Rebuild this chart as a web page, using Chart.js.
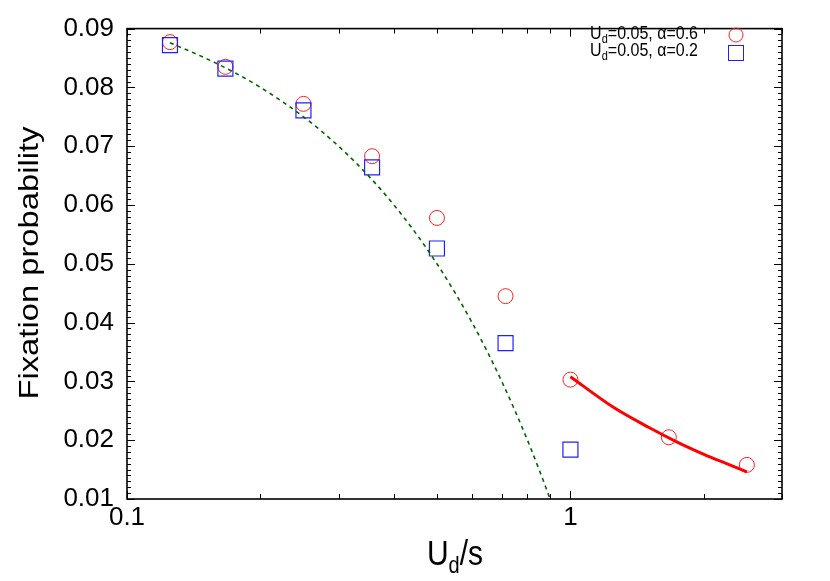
<!DOCTYPE html>
<html><head><meta charset="utf-8">
<script src="https://cdn.jsdelivr.net/npm/chart.js@4/dist/chart.umd.min.js"></script>
<style>html,body{margin:0;padding:0;background:#fff}#wrap{width:830px;height:581px;position:relative}</style>
</head><body><div id="wrap"><canvas id="c"></canvas></div>
<script>
// ---- data ----
const xCircle = [0.125, 0.1667, 0.25, 0.357, 0.5, 0.714, 1, 1.667, 2.5];
const yCircle = [0.0877, 0.0835, 0.0772, 0.0683, 0.0578, 0.0445, 0.0303, 0.0205, 0.0158];
const xSquare = [0.125, 0.1667, 0.25, 0.357, 0.5, 0.714, 1];
const ySquare = [0.0872, 0.0832, 0.0761, 0.0664, 0.0526, 0.0365, 0.0184];
const xGreen = [0.125, 0.15, 0.175, 0.2, 0.25, 0.3, 0.35, 0.4, 0.45, 0.5, 0.55, 0.6, 0.65, 0.7, 0.75, 0.8, 0.85, 0.9];
const yGreen = [0.0876, 0.0850, 0.0825, 0.0800, 0.0750, 0.0700, 0.0650, 0.0600, 0.0550, 0.0500, 0.0450, 0.0400, 0.0350, 0.0300, 0.0250, 0.0200, 0.0150, 0.0100];
const xRed = [1.0, 1.25, 1.5, 1.75, 2.0, 2.25, 2.5];
const yRed = [0.0308, 0.0256, 0.0222, 0.0196, 0.0176, 0.0160, 0.0146];
const xMajorTicks = [0.1, 1];
const xMinorTicks = [0.2, 0.3, 0.4, 0.5, 0.6, 0.7, 0.8, 0.9, 2, 3];
const yTicks = [0.01, 0.02, 0.03, 0.04, 0.05, 0.06, 0.07, 0.08, 0.09];
const legendRows = [["U", "d", "=0.05, \u03b1=0.6"], ["U", "d", "=0.05, \u03b1=0.2"]];
const xTitle = ["U", "d", "/s"];
const yTitle = "Fixation probability";

const FONT = '"Liberation Sans", Arial, Helvetica, sans-serif';
const pts = (xs, ys) => xs.map((x, i) => ({x: x, y: ys[i]}));

function drawSubText(ctx, x, y, parts, size, subSize, drop, align) {
  ctx.font = size + 'px ' + FONT;
  const w0 = ctx.measureText(parts[0]).width;
  const w2 = ctx.measureText(parts[2]).width;
  ctx.font = subSize + 'px ' + FONT;
  const w1 = ctx.measureText(parts[1]).width;
  const total = w0 + w1 + w2;
  let sx = align === 'right' ? x - total : (align === 'center' ? x - total / 2 : x);
  ctx.textBaseline = 'alphabetic';
  ctx.textAlign = 'left';
  ctx.font = size + 'px ' + FONT;
  ctx.fillText(parts[0], sx, y);
  ctx.font = subSize + 'px ' + FONT;
  ctx.fillText(parts[1], sx + w0, y + drop);
  ctx.font = size + 'px ' + FONT;
  ctx.fillText(parts[2], sx + w0 + w1, y);
}

const framePlugin = {
  id: 'frame',
  afterDraw(chart) {
    const ctx = chart.ctx, a = chart.chartArea;
    const xs = chart.scales.x, ys = chart.scales.y;
    ctx.save();
    ctx.strokeStyle = '#000';
    ctx.lineWidth = 1;
    ctx.beginPath();
    const tick = (x1, y1, x2, y2) => { ctx.moveTo(x1, y1); ctx.lineTo(x2, y2); };
    for (let k = 10; k <= 90; k++) {
      const v = k / 1000;
      const p = Math.round(ys.getPixelForValue(v)) + 0.5;
      const len = (k % 10 === 0) ? 8 : 4;
      tick(a.left, p, a.left + len, p);
      tick(a.right, p, a.right - len, p);
    }
    xMajorTicks.concat(xMinorTicks).forEach(v => {
      const p = Math.round(xs.getPixelForValue(v)) + 0.5;
      const len = xMajorTicks.includes(v) ? 8 : 5;
      tick(p, a.bottom, p, a.bottom - len);
      tick(p, a.top, p, a.top + len);
    });
    ctx.stroke();
    ctx.lineWidth = 1.6;
    ctx.strokeRect(a.left, a.top, a.right - a.left, a.bottom - a.top);

    ctx.fillStyle = '#000';
    ctx.save();
    ctx.translate(455, 565);
    ctx.scale(1, 1.17);
    drawSubText(ctx, 0, 0, xTitle, 30, 20, 7, 'center');
    ctx.restore();

    ctx.save();
    ctx.translate(38, 263);
    ctx.rotate(-Math.PI / 2);
    ctx.scale(1.17, 1);
    ctx.font = '28px ' + FONT;
    ctx.textAlign = 'center';
    ctx.textBaseline = 'alphabetic';
    ctx.fillText(yTitle, 0, 0);
    ctx.restore();

    const rowsY = [38.5, 55.5];
    const markY = [35, 53];
    legendRows.forEach((row, i) => {
      ctx.save();
      ctx.translate(698, rowsY[i]);
      ctx.scale(1, 1.1);
      drawSubText(ctx, 0, 0, row, 16, 11, 4, 'right');
      ctx.restore();
    });
    ctx.lineWidth = 1;
    ctx.strokeStyle = '#ff2020';
    ctx.beginPath();
    ctx.arc(736, markY[0], 7, 0, Math.PI * 2);
    ctx.stroke();
    ctx.strokeStyle = '#2020ff';
    ctx.strokeRect(728.5, markY[1] - 7.5, 15, 15);
    ctx.restore();
  }
};

new Chart(document.getElementById('c'), {
  data: {
    datasets: [
      {type: 'line', data: pts(xGreen, yGreen), borderColor: '#006400', borderWidth: 1.6, borderDash: [4, 4],
       pointRadius: 0, cubicInterpolationMode: 'monotone', fill: false, order: 0},
      {type: 'line', data: pts(xRed, yRed), borderColor: '#ff0000', borderWidth: 3, pointRadius: 0,
       cubicInterpolationMode: 'monotone', fill: false, order: 0},
      {type: 'scatter', data: pts(xCircle, yCircle), pointStyle: 'circle', pointRadius: 7.5,
       borderColor: '#ff2020', backgroundColor: 'rgba(0,0,0,0)', pointBorderWidth: 1, order: 2},
      {type: 'scatter', data: pts(xSquare, ySquare), pointStyle: 'rect', pointRadius: 10.6,
       borderColor: '#2020ff', backgroundColor: 'rgba(0,0,0,0)', pointBorderWidth: 1.2, order: 1}
    ]
  },
  options: {
    responsive: true,
    maintainAspectRatio: false,
    animation: false,
    events: [],
    layout: {padding: {top: 19, right: 48, left: 0, bottom: 0}},
    plugins: {legend: {display: false}, tooltip: {enabled: false}},
    scales: {
      x: {
        type: 'logarithmic', min: 0.1, max: 3,
        grid: {display: false, drawTicks: false}, border: {display: false},
        afterBuildTicks: s => { s.ticks = xMajorTicks.concat(xMinorTicks).sort((a, b) => a - b).map(v => ({value: v})); },
        afterFit: s => { s.height = 82; },
        ticks: {autoSkip: false, maxRotation: 0, padding: 3, color: '#000',
                font: {family: FONT, size: 26},
                callback: v => xMajorTicks.includes(v) ? String(v) : ''}
      },
      y: {
        type: 'linear', min: 0.01, max: 0.09,
        grid: {display: false, drawTicks: false}, border: {display: false},
        afterBuildTicks: s => { s.ticks = yTicks.map(v => ({value: v})); },
        afterFit: s => { s.width = 127; },
        ticks: {autoSkip: false, padding: 13, color: '#000',
                font: {family: FONT, size: 26},
                callback: v => Number(v).toFixed(2)}
      }
    }
  },
  plugins: [framePlugin]
});
</script></body></html>
